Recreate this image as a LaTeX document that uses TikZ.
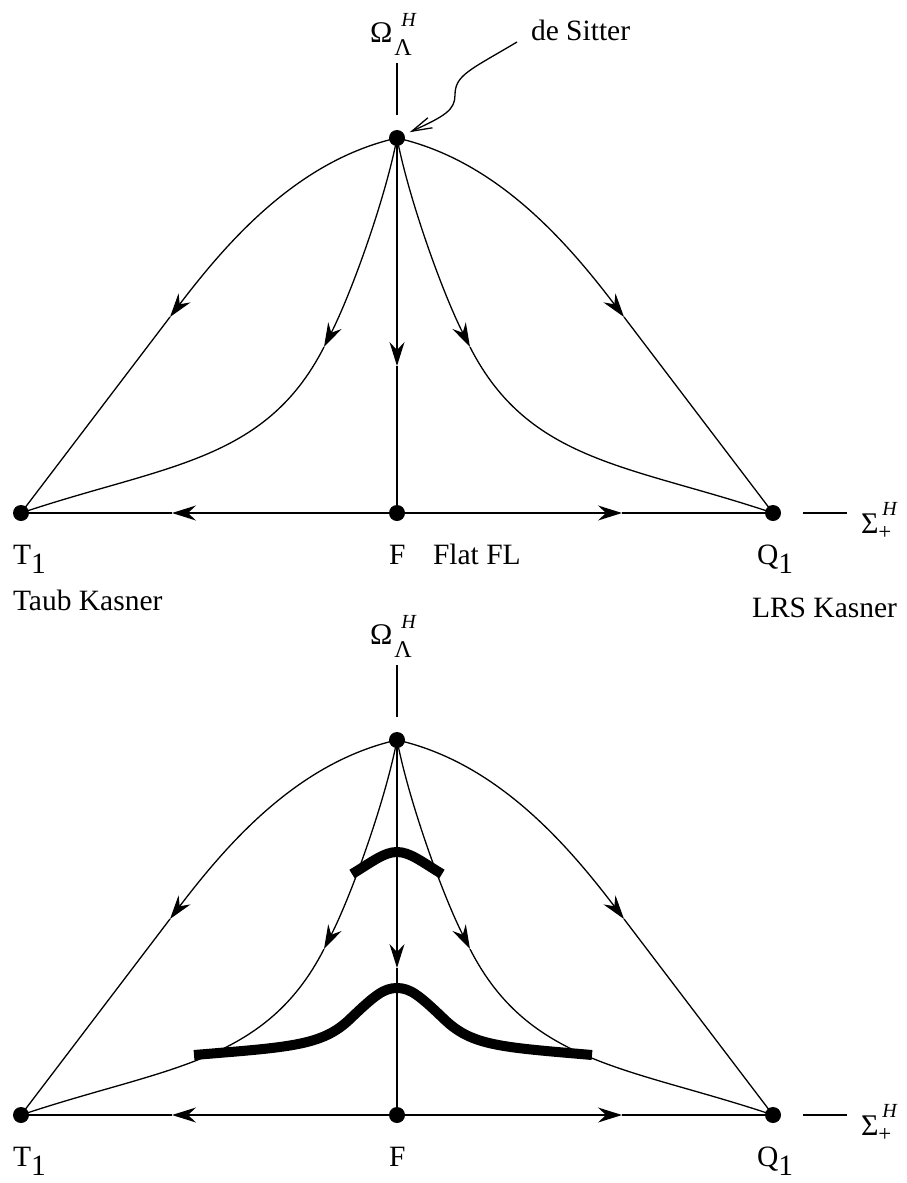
\documentclass[tikz,border=0pt]{standalone}
\usepackage{fontspec}
\setmainfont{Liberation Serif}
\usetikzlibrary{arrows.meta}
\tikzset{
 ln/.style={line width=1.3pt},
 fl/.style={ln,-{Stealth[length=24pt,width=15pt,inset=8pt]}},
 dot/.style={circle,fill=black,inner sep=0pt,outer sep=0pt,minimum size=16pt},
 lbl/.style={inner sep=0pt,outer sep=0pt,anchor=base west,font=\fontsize{29.5}{34}\selectfont},
 thickcurve/.style={line width=10pt}
}
\newcommand{\subone}{\raisebox{-9pt}{1}}
\newcommand{\phaseplot}[2]{%
\begin{scope}[shift={(0,#2)}]
\node[dot] (#1D) at (397,138) {};
\node[dot] (#1T) at (21,513) {};
\node[dot] (#1F) at (397,513) {};
\node[dot] (#1Q) at (773,513) {};
\coordinate (#1ya) at (397,63);
\coordinate (#1yb) at (397,115);
\coordinate (#1xa) at (803,513);
\coordinate (#1xb) at (847,513);
\draw[ln] (#1ya) -- (#1yb);
\draw[ln] (#1xa) -- (#1xb);
\coordinate (#1oL) at (170,317);
\coordinate (#1oR) at (624,317);
\coordinate (#1iL) at (324,347);
\coordinate (#1iR) at (470,347);
\coordinate (#1v) at (397,366);
\coordinate (#1hL) at (172,513);
\coordinate (#1hR) at (622,513);
\draw[fl] (#1D.center) .. controls (300,160) and (230.5,237.4) .. (#1oL);
\draw[ln] (#1oL) -- (#1T.center);
\draw[fl] (#1D.center) .. controls (494,160) and (563.5,237.4) .. (#1oR);
\draw[ln] (#1oR) -- (#1Q.center);
\draw[fl] (#1D.center) .. controls (385,200) and (351,294) .. (#1iL);
\draw[ln] (#1iL) .. controls (265,462.8) and (163.5,465) .. (#1T.center);
\draw[fl] (#1D.center) .. controls (409,200) and (443,294) .. (#1iR);
\draw[ln] (#1iR) .. controls (529,462.8) and (630.5,465) .. (#1Q.center);
\draw[fl] (#1D.center) -- (#1v);
\draw[ln] (#1v) -- (#1F.center);
\draw[fl] (#1F.center) -- (#1hL);
\draw[ln] (#1hL) -- (#1T.center);
\draw[fl] (#1F.center) -- (#1hR);
\draw[ln] (#1hR) -- (#1Q.center);
\node[lbl] (#1Om) at (370,42) {\fontsize{30}{30}\selectfont Ω\hspace{2pt}\rlap{\hspace{7pt}\raisebox{16pt}{\fontsize{20}{20}\selectfont\itshape H}}\raisebox{-13pt}{\fontsize{24}{24}\selectfont Λ}};
\node[lbl] (#1Sg) at (861,533) {\fontsize{30}{30}\selectfont Σ\rlap{\hspace{4pt}\raisebox{18pt}{\fontsize{20}{20}\selectfont\itshape H}}\raisebox{-6pt}{\fontsize{23}{23}\selectfont +}};
\node[lbl] (#1Tl) at (13,564) {T\subone};
\node[lbl] (#1Fl) at (389,564) {F};
\node[lbl] (#1Ql) at (757,564) {Q\subone};
\end{scope}}
\begin{document}
\begin{tikzpicture}[x=1pt,y=-1pt]
\useasboundingbox (0,0) rectangle (906,1183);
\phaseplot{t}{0}
\phaseplot{b}{602}
\node[lbl] (flat) at (433,564) {Flat FL};
\node[lbl] (taub) at (13,610) {Taub Kasner};
\node[lbl] (lrs) at (752,617) {LRS Kasner};
\node[lbl] (ds) at (531,40) {de Sitter};
\coordinate (dsa) at (517,42);
\draw[ln,-{Straight Barb[length=20pt,width=11pt]},shorten >=6pt] (dsa) .. controls (470,70) and (455,75) .. (455,95) .. controls (455,110) and (445,116) .. (tD);
\draw[thickcurve] (352,874) .. controls (372,862) and (384,852) .. (397,852) .. controls (410,852) and (422,862) .. (442,874);
\draw[thickcurve] (194,1055) .. controls (290,1047) and (322,1046) .. (350,1019) .. controls (375,995) and (384,988) .. (397,988) .. controls (410,988) and (419,995) .. (444,1019) .. controls (472,1046) and (500,1047) .. (592,1055);
\end{tikzpicture}
\end{document}
